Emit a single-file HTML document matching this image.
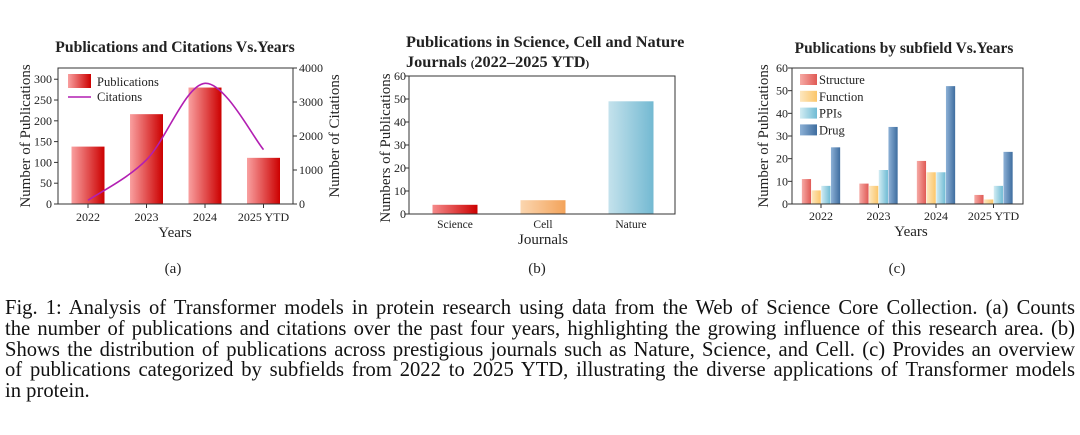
<!DOCTYPE html>
<html><head><meta charset="utf-8"><style>
body{margin:0;background:#fff;width:1080px;height:435px;overflow:hidden;position:relative;font-family:"Liberation Serif",serif;}
svg text{font-family:"Liberation Serif",serif;fill:#222;}
#cap{position:absolute;left:5px;top:298px;width:1070px;font-size:20.6px;line-height:20.8px;color:#111;}
#cap .l{text-align:justify;text-align-last:justify;white-space:nowrap;}
#cap .l.last{text-align:left;text-align-last:left;}
</style></head><body>
<svg id="s" width="1080" height="290" style="position:absolute;left:0;top:0">
<defs>
<linearGradient id="gRed" x1="0" x2="1"><stop offset="0" stop-color="#f9a0a0"/><stop offset="1" stop-color="#cc0000"/></linearGradient>
<linearGradient id="gSci" x1="0" x2="1"><stop offset="0" stop-color="#f58a8a"/><stop offset="1" stop-color="#cc0000"/></linearGradient>
<linearGradient id="gCell" x1="0" x2="1"><stop offset="0" stop-color="#fbd6b0"/><stop offset="1" stop-color="#f3a35a"/></linearGradient>
<linearGradient id="gNat" x1="0" x2="1"><stop offset="0" stop-color="#c4e2ec"/><stop offset="1" stop-color="#73b9d2"/></linearGradient>
<linearGradient id="gS" x1="0" x2="1"><stop offset="0" stop-color="#f6aaa5"/><stop offset="1" stop-color="#e05a55"/></linearGradient>
<linearGradient id="gF" x1="0" x2="1"><stop offset="0" stop-color="#fde7bf"/><stop offset="1" stop-color="#fbc66a"/></linearGradient>
<linearGradient id="gP" x1="0" x2="1"><stop offset="0" stop-color="#d2ecf3"/><stop offset="1" stop-color="#6fbbd4"/></linearGradient>
<linearGradient id="gD" x1="0" x2="1"><stop offset="0" stop-color="#8db1d6"/><stop offset="1" stop-color="#3e6d9f"/></linearGradient>
</defs>
<g id="A"></g>
<g id="B"></g>
<g id="C"></g>
<text x="173" y="273" font-size="15" text-anchor="middle">(a)</text>
<text x="537" y="273" font-size="15" text-anchor="middle">(b)</text>
<text x="897" y="273" font-size="15" text-anchor="middle">(c)</text>
</svg>
<div id="cap">
<div class="l">Fig. 1: Analysis of Transformer models in protein research using data from the Web of Science Core Collection. (a) Counts</div>
<div class="l">the number of publications and citations over the past four years, highlighting the growing influence of this research area. (b)</div>
<div class="l">Shows the distribution of publications across prestigious journals such as Nature, Science, and Cell. (c) Provides an overview</div>
<div class="l">of publications categorized by subfields from 2022 to 2025 YTD, illustrating the diverse applications of Transformer models</div>
<div class="l last">in protein.</div>
</div>
<script>
const yearCats = ["2022","2023","2024","2025 YTD"];
const pubValues = [138, 216, 280, 111];
const citeValues = [110, 1300, 3550, 1600];
const pubTicks = [0,50,100,150,200,250,300];
const citeTicks = [0,1000,2000,3000,4000];
const journalCats = ["Science","Cell","Nature"];
const journalValues = [4, 6, 49];
const tenTicks = [0,10,20,30,40,50,60];
const subSeries = ["Structure","Function","PPIs","Drug"];
const structureVals = [11, 9, 19, 4];
const functionVals = [6, 8, 14, 2];
const ppiVals = [8, 15, 14, 8];
const drugVals = [25, 34, 52, 23];

const NS="http://www.w3.org/2000/svg";
function mk(parent,tag,attrs,txt){const e=document.createElementNS(NS,tag);for(const k in attrs)e.setAttribute(k,attrs[k]);if(txt!==undefined)e.textContent=txt;parent.appendChild(e);return e;}
function lin(d0,d1,r0,r1){return v=>r0+(v-d0)/(d1-d0)*(r1-r0);}

// ---- Chart A ----
(function(){
const g=document.getElementById('A');
const L=58,R=293,T=68,B=204;
const y=lin(0,327,B,T), y2=lin(0,4000,B,T);
const xc=i=>88+i*58.5;
let e=mk(g,'text',{x:175,y:52,'font-size':15.7,'font-weight':'bold','text-anchor':'middle'},'Publications and Citations Vs.Years');

pubValues.forEach((v,i)=>{
 const r=mk(g,'rect',{x:xc(i)-16.5,y:y(v),width:33,height:B-y(v),fill:'url(#gRed)'});
 
 
});
const pts=citeValues.map((v,i)=>[xc(i),y2(v)]);
let d='M'+pts[0][0]+','+pts[0][1];
for(let i=0;i<pts.length-1;i++){const p0=pts[Math.max(0,i-1)],p1=pts[i],p2=pts[i+1],p3=pts[Math.min(pts.length-1,i+2)];
 d+=` C${p1[0]+(p2[0]-p0[0])/6},${p1[1]+(p2[1]-p0[1])/6} ${p2[0]-(p3[0]-p1[0])/6},${p2[1]-(p3[1]-p1[1])/6} ${p2[0]},${p2[1]}`;}
e=mk(g,'path',{d:d,fill:'none',stroke:'#b21fb2','stroke-width':1.6});

mk(g,'rect',{x:L,y:T,width:R-L,height:B-T,fill:'none',stroke:'#333','stroke-width':1});
pubTicks.forEach(t=>{mk(g,'line',{x1:L-4,x2:L,y1:y(t),y2:y(t),stroke:'#333'});
 e=mk(g,'text',{x:L-6,y:y(t)+4,'font-size':12,'text-anchor':'end'},t);});
citeTicks.forEach(t=>{mk(g,'line',{x1:R,x2:R+4,y1:y2(t),y2:y2(t),stroke:'#333'});
 e=mk(g,'text',{x:R+6,y:y2(t)+4,'font-size':12},t);});
yearCats.forEach((c,i)=>{mk(g,'line',{x1:xc(i),x2:xc(i),y1:B,y2:B+4,stroke:'#333'});
 e=mk(g,'text',{x:xc(i),y:B+17,'font-size':12,'text-anchor':'middle'},c);});
e=mk(g,'text',{x:175,y:237,'font-size':15,'text-anchor':'middle'},'Years');
e=mk(g,'text',{transform:'translate(30,136) rotate(-90)','font-size':15,'text-anchor':'middle'},'Number of Publications');
e=mk(g,'text',{transform:'translate(339,136) rotate(-90)','font-size':15,'text-anchor':'middle'},'Number of Citations');
mk(g,'rect',{x:68,y:74,width:23,height:14,fill:'url(#gRed)'});
e=mk(g,'text',{x:97,y:86,'font-size':12.5},'Publications');
mk(g,'line',{x1:68,x2:91,y1:97,y2:97,stroke:'#b21fb2','stroke-width':1.6});
e=mk(g,'text',{x:97,y:101,'font-size':12.5},'Citations');
})();

// ---- Chart B ----
(function(){
const g=document.getElementById('B');
const L=409,R=675,T=76,B=214;
const y=lin(0,60,B,T);const xc=i=>455+i*88;
const fills=['url(#gSci)','url(#gCell)','url(#gNat)'];
let e=mk(g,'text',{x:406,y:47,'font-size':16.3,'font-weight':'bold'},'Publications in Science, Cell and Nature');

e=mk(g,'text',{x:406,y:67,'font-size':16.3,'font-weight':'bold'});e.innerHTML='Journals <tspan font-size="11">(</tspan>2022–2025 YTD<tspan font-size="11">)</tspan>';

journalValues.forEach((v,i)=>{const r=mk(g,'rect',{x:xc(i)-22.5,y:y(v),width:45,height:B-y(v),fill:fills[i]});
 
 });
mk(g,'rect',{x:L,y:T,width:R-L,height:B-T,fill:'none',stroke:'#333'});
tenTicks.forEach(t=>{mk(g,'line',{x1:L-4,x2:L,y1:y(t),y2:y(t),stroke:'#333'});
 e=mk(g,'text',{x:L-3,y:y(t)+4,'font-size':12,'text-anchor':'end'},t);});
journalCats.forEach((c,i)=>{e=mk(g,'text',{x:xc(i),y:228,'font-size':11.5,'text-anchor':'middle'},c);});
e=mk(g,'text',{x:543,y:244,'font-size':15,'text-anchor':'middle'},'Journals');
e=mk(g,'text',{transform:'translate(390,148) rotate(-90)','font-size':15,'text-anchor':'middle'},'Numbers of Publications');
})();

// ---- Chart C ----
(function(){
const g=document.getElementById('C');
const L=792,R=1023,T=68,B=204;
const y=lin(0,60,B,T);const gc=i=>821+i*57.5;
const series=[structureVals,functionVals,ppiVals,drugVals];
const fills=['url(#gS)','url(#gF)','url(#gP)','url(#gD)'];
let e=mk(g,'text',{x:904,y:53,'font-size':15.4,'font-weight':'bold','text-anchor':'middle'},'Publications by subfield Vs.Years');

series.forEach((vals,s)=>vals.forEach((v,i)=>{
 const r=mk(g,'rect',{x:gc(i)+(s-1.5)*9.7-4.6,y:y(v),width:9.2,height:B-y(v),fill:fills[s]});
 
 }));
mk(g,'rect',{x:L,y:T,width:R-L,height:B-T,fill:'none',stroke:'#333'});
tenTicks.forEach(t=>{mk(g,'line',{x1:L-4,x2:L,y1:y(t),y2:y(t),stroke:'#333'});
 e=mk(g,'text',{x:L-4,y:y(t)+4,'font-size':12,'text-anchor':'end'},t);});
yearCats.forEach((c,i)=>{mk(g,'line',{x1:gc(i),x2:gc(i),y1:B,y2:B+4,stroke:'#333'});
 e=mk(g,'text',{x:gc(i),y:B+16,'font-size':12,'text-anchor':'middle'},c);});
e=mk(g,'text',{x:911,y:236,'font-size':15,'text-anchor':'middle'},'Years');
e=mk(g,'text',{transform:'translate(768,136) rotate(-90)','font-size':15,'text-anchor':'middle'},'Number of Publications');
subSeries.forEach((n,s)=>{mk(g,'rect',{x:800,y:74+s*16.8,width:17,height:11,fill:fills[s]});
 e=mk(g,'text',{x:819,y:84+s*16.8,'font-size':12.5},n);});
})();
</script>
</body></html>
